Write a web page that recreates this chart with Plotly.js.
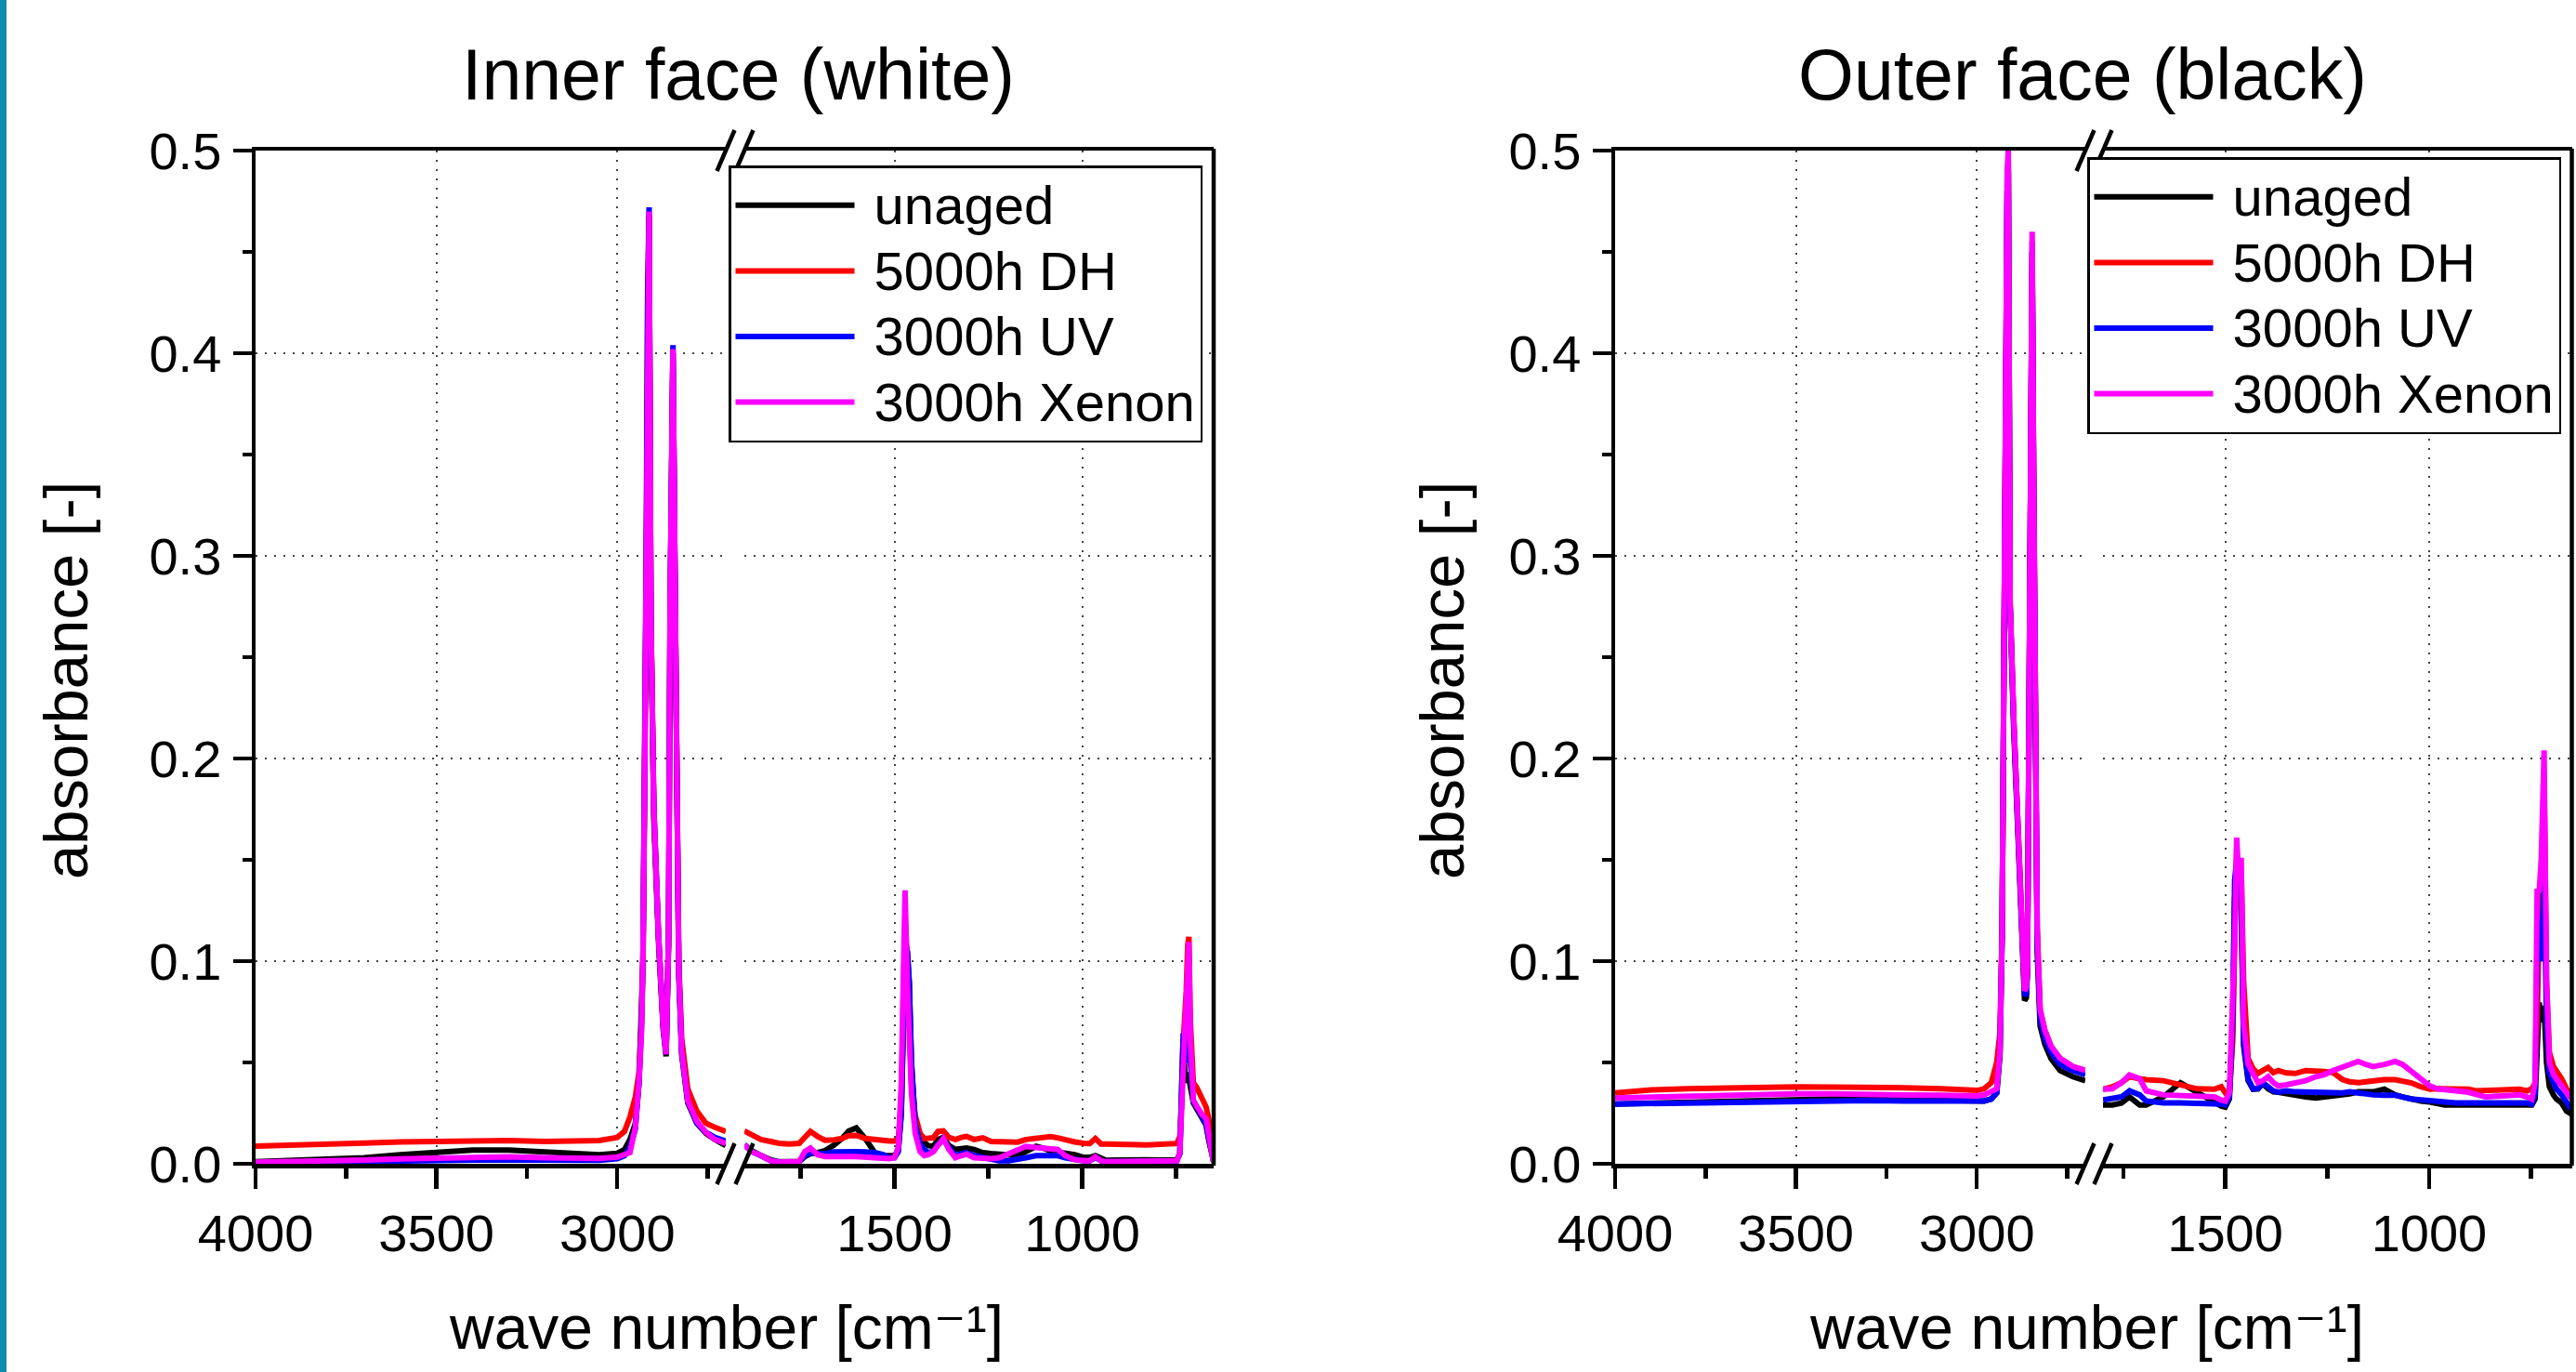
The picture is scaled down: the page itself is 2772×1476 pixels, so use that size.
<!DOCTYPE html>
<html><head><meta charset="utf-8">
<script src="https://cdn.plot.ly/plotly-3.0.1.min.js"></script>
<style>html,body{margin:0;padding:0;background:#fff;}#chart{width:2772px;height:1476px;}</style>
</head><body><div id="chart"></div>
<script>
// ---------------- DATA ----------------
const seriesNames = ['unaged', '5000h DH', '3000h UV', '3000h Xenon'];
const panelTitles = ['Inner face (white)', 'Outer face (black)'];
const xTitle = 'wave number [cm\u207B\u00B9]';
const yTitle = 'absorbance [-]';

// Inner face, high wavenumber segment (4000 -> 2700 cm-1)
const innerWnHigh = [4000, 3900, 3800, 3700, 3600, 3500, 3400, 3300, 3200, 3100, 3050, 3000, 2980, 2965, 2950, 2940, 2933, 2929, 2925, 2920, 2916, 2912, 2907, 2899, 2886, 2873, 2865, 2858, 2854, 2849, 2846, 2841, 2836, 2830, 2822, 2805, 2780, 2755, 2730, 2700];
const innerUnagedHigh = [0.001, 0.0015, 0.002, 0.003, 0.0045, 0.0055, 0.0068, 0.0068, 0.006, 0.0048, 0.0045, 0.0052, 0.007, 0.012, 0.02, 0.04, 0.07, 0.1, 0.17, 0.29, 0.42, 0.468, 0.27, 0.17, 0.11, 0.066, 0.053, 0.11, 0.27, 0.36, 0.4, 0.3, 0.17, 0.093, 0.054, 0.03, 0.02, 0.015, 0.012, 0.009];
const innerDhHigh = [0.0087, 0.009, 0.0095, 0.0102, 0.0108, 0.011, 0.0117, 0.0115, 0.011, 0.0113, 0.0115, 0.013, 0.016, 0.023, 0.033, 0.045, 0.07, 0.1, 0.17, 0.29, 0.42, 0.468, 0.27, 0.176, 0.113, 0.068, 0.055, 0.113, 0.27, 0.36, 0.4, 0.3, 0.176, 0.1, 0.062, 0.037, 0.026, 0.02, 0.018, 0.016];
const innerUvHigh = [0.0005, 0.0008, 0.001, 0.0013, 0.0015, 0.0018, 0.002, 0.002, 0.0018, 0.0016, 0.0017, 0.0025, 0.004, 0.008, 0.017, 0.04, 0.068, 0.1, 0.176, 0.3, 0.43, 0.472, 0.27, 0.176, 0.113, 0.068, 0.054, 0.113, 0.27, 0.365, 0.404, 0.302, 0.176, 0.097, 0.056, 0.031, 0.02, 0.0155, 0.013, 0.0112];
const innerXenonHigh = [0.0008, 0.001, 0.0013, 0.0018, 0.0024, 0.0029, 0.0035, 0.0034, 0.003, 0.0025, 0.0026, 0.0033, 0.0045, 0.0055, 0.018, 0.04, 0.065, 0.1, 0.176, 0.302, 0.429, 0.47, 0.27, 0.176, 0.113, 0.068, 0.054, 0.113, 0.27, 0.365, 0.402, 0.302, 0.176, 0.097, 0.056, 0.031, 0.021, 0.0155, 0.012, 0.01];

// Inner face, low wavenumber segment (1900 -> 650 cm-1)
const innerWnLow = [1900, 1880, 1856, 1830, 1808, 1780, 1754, 1739, 1724, 1705, 1685, 1661, 1640, 1622, 1602, 1578, 1553, 1530, 1514, 1500, 1490, 1482, 1476, 1472, 1466, 1461, 1455, 1445, 1432, 1421, 1410, 1397, 1384, 1370, 1355, 1338, 1322, 1308, 1288, 1265, 1243, 1221, 1196, 1172, 1150, 1123, 1100, 1084, 1065, 1045, 1020, 996, 980, 965, 950, 937, 910, 878, 850, 829, 800, 780, 760, 748, 740, 735, 731, 727, 723, 719, 716, 712, 708, 704, 695, 688, 680, 670, 663, 657, 652, 650];
const innerUnagedLow = [0.0093, 0.0065, 0.0041, 0.002, 0.001, 0.001, 0.0012, 0.0035, 0.005, 0.0055, 0.0065, 0.0093, 0.0125, 0.0162, 0.0177, 0.0125, 0.0055, 0.004, 0.004, 0.004, 0.007, 0.025, 0.07, 0.1, 0.105, 0.09, 0.05, 0.02, 0.012, 0.0101, 0.009, 0.0086, 0.012, 0.0131, 0.009, 0.0071, 0.0075, 0.0078, 0.007, 0.0055, 0.005, 0.0048, 0.0044, 0.004, 0.006, 0.0086, 0.0075, 0.0063, 0.0058, 0.0055, 0.0045, 0.0032, 0.0032, 0.004, 0.0025, 0.0017, 0.0018, 0.002, 0.002, 0.002, 0.0018, 0.0017, 0.0017, 0.002, 0.005, 0.03, 0.062, 0.045, 0.04, 0.045, 0.042, 0.035, 0.032, 0.03, 0.027, 0.025, 0.022, 0.019, 0.0116, 0.006, 0.002, 0.001];
const innerDhLow = [0.0162, 0.014, 0.012, 0.011, 0.0101, 0.0098, 0.0101, 0.013, 0.016, 0.0135, 0.0116, 0.0118, 0.0125, 0.0139, 0.014, 0.0125, 0.0118, 0.0112, 0.0112, 0.0112, 0.012, 0.03, 0.08, 0.12, 0.1, 0.07, 0.04, 0.024, 0.015, 0.0124, 0.0125, 0.0128, 0.016, 0.0162, 0.013, 0.012, 0.013, 0.0135, 0.012, 0.0128, 0.011, 0.0107, 0.0105, 0.0107, 0.012, 0.0128, 0.0132, 0.0134, 0.0128, 0.0116, 0.0108, 0.0101, 0.01, 0.0125, 0.0098, 0.0098, 0.0095, 0.0097, 0.0094, 0.0093, 0.0095, 0.0093, 0.0093, 0.01, 0.0135, 0.03, 0.06, 0.07, 0.085, 0.108, 0.112, 0.07, 0.044, 0.04, 0.0376, 0.0345, 0.032, 0.028, 0.022, 0.013, 0.0055, 0.003];
const innerUvLow = [0.0093, 0.006, 0.004, 0.0015, 0.0008, 0.0008, 0.001, 0.004, 0.0055, 0.005, 0.005, 0.0058, 0.006, 0.006, 0.006, 0.0058, 0.0055, 0.0045, 0.003, 0.003, 0.006, 0.025, 0.075, 0.11, 0.105, 0.09, 0.05, 0.02, 0.01, 0.007, 0.0055, 0.006, 0.0095, 0.012, 0.008, 0.004, 0.005, 0.0055, 0.004, 0.003, 0.002, 0.0015, 0.0015, 0.002, 0.003, 0.004, 0.004, 0.0045, 0.004, 0.003, 0.002, 0.0015, 0.0015, 0.003, 0.0015, 0.001, 0.001, 0.0012, 0.0012, 0.0012, 0.0012, 0.001, 0.001, 0.0015, 0.005, 0.035, 0.0644, 0.05, 0.06, 0.09, 0.095, 0.05, 0.038, 0.031, 0.028, 0.026, 0.023, 0.019, 0.012, 0.006, 0.002, 0.001];
const innerXenonLow = [0.0093, 0.006, 0.0041, 0.0015, 0.0008, 0.0008, 0.0012, 0.006, 0.0078, 0.0045, 0.0035, 0.0035, 0.0032, 0.0035, 0.0035, 0.0032, 0.003, 0.0025, 0.0025, 0.003, 0.008, 0.04, 0.11, 0.135, 0.09, 0.06, 0.035, 0.015, 0.006, 0.004, 0.0045, 0.006, 0.0095, 0.0125, 0.007, 0.003, 0.004, 0.0048, 0.003, 0.0025, 0.0025, 0.003, 0.005, 0.0075, 0.0086, 0.008, 0.0076, 0.0075, 0.007, 0.004, 0.002, 0.0015, 0.0015, 0.0035, 0.0015, 0.001, 0.001, 0.001, 0.001, 0.0012, 0.0012, 0.001, 0.001, 0.0015, 0.0055, 0.035, 0.063, 0.065, 0.08, 0.103, 0.1095, 0.06, 0.042, 0.0315, 0.0284, 0.026, 0.024, 0.0223, 0.013, 0.007, 0.0024, 0.001];

// Outer face, high wavenumber segment (4000 -> 2700 cm-1)
const outerWnHigh = [4000, 3900, 3800, 3700, 3600, 3500, 3400, 3300, 3200, 3100, 3050, 3000, 2980, 2960, 2945, 2936, 2930, 2924, 2920, 2916, 2913, 2908, 2898, 2890, 2877, 2868, 2863, 2860, 2856, 2851, 2847, 2843, 2838, 2833, 2825, 2812, 2795, 2770, 2735, 2700];
const outerUnagedHigh = [0.0295, 0.03, 0.0305, 0.031, 0.0315, 0.032, 0.032, 0.032, 0.0315, 0.031, 0.0308, 0.0305, 0.031, 0.032, 0.035, 0.054, 0.113, 0.275, 0.405, 0.48, 0.49, 0.275, 0.215, 0.175, 0.11, 0.0806, 0.082, 0.095, 0.21, 0.37, 0.45, 0.335, 0.17, 0.105, 0.068, 0.059, 0.052, 0.046, 0.043, 0.041];
const outerDhHigh = [0.035, 0.0365, 0.037, 0.0375, 0.0375, 0.038, 0.0378, 0.0378, 0.0375, 0.037, 0.0365, 0.0362, 0.037, 0.04, 0.05, 0.065, 0.115, 0.277, 0.407, 0.48, 0.49, 0.277, 0.22, 0.18, 0.115, 0.085, 0.085, 0.098, 0.212, 0.374, 0.45, 0.342, 0.18, 0.115, 0.076, 0.066, 0.058, 0.052, 0.048, 0.046];
const outerUvHigh = [0.0295, 0.0298, 0.03, 0.0303, 0.0306, 0.031, 0.031, 0.0312, 0.031, 0.0308, 0.0306, 0.0305, 0.031, 0.032, 0.035, 0.055, 0.114, 0.276, 0.406, 0.485, 0.495, 0.276, 0.218, 0.178, 0.113, 0.083, 0.084, 0.097, 0.21, 0.372, 0.455, 0.34, 0.176, 0.11, 0.072, 0.062, 0.055, 0.049, 0.046, 0.044];
const outerXenonHigh = [0.0325, 0.033, 0.0335, 0.034, 0.034, 0.0345, 0.0345, 0.0345, 0.034, 0.0338, 0.0335, 0.0335, 0.034, 0.036, 0.037, 0.056, 0.115, 0.277, 0.407, 0.49, 0.5, 0.277, 0.22, 0.18, 0.115, 0.0854, 0.087, 0.098, 0.212, 0.374, 0.46, 0.342, 0.18, 0.115, 0.076, 0.066, 0.058, 0.052, 0.048, 0.046];

// Outer face, low wavenumber segment (1800 -> 650 cm-1)
const outerWnLow = [1800, 1777, 1755, 1735, 1710, 1694, 1652, 1610, 1569, 1527, 1510, 1500, 1490, 1482, 1477, 1472, 1467, 1461, 1455, 1444, 1432, 1420, 1408, 1395, 1382, 1370, 1350, 1328, 1303, 1278, 1257, 1236, 1212, 1195, 1174, 1155, 1137, 1110, 1083, 1065, 1045, 1020, 998, 980, 962, 935, 904, 885, 862, 820, 779, 760, 748, 740, 735, 730, 725, 718, 712, 705, 695, 688, 675, 663, 655, 650];
const outerUnagedLow = [0.029, 0.029, 0.03, 0.033, 0.029, 0.029, 0.033, 0.04, 0.0353, 0.03, 0.0285, 0.028, 0.032, 0.065, 0.13, 0.145, 0.14, 0.125, 0.058, 0.041, 0.0368, 0.037, 0.0395, 0.037, 0.0355, 0.0353, 0.0345, 0.0338, 0.033, 0.0325, 0.033, 0.033, 0.0335, 0.0345, 0.0355, 0.0355, 0.0355, 0.0368, 0.034, 0.033, 0.032, 0.031, 0.0305, 0.0295, 0.029, 0.029, 0.029, 0.029, 0.029, 0.0292, 0.029, 0.029, 0.029, 0.032, 0.06, 0.0796, 0.07, 0.078, 0.05, 0.038, 0.034, 0.032, 0.03, 0.026, 0.025, 0.027];
const outerDhLow = [0.0368, 0.038, 0.04, 0.043, 0.042, 0.0415, 0.041, 0.039, 0.037, 0.0368, 0.038, 0.035, 0.036, 0.06, 0.12, 0.155, 0.14, 0.145, 0.09, 0.052, 0.047, 0.0446, 0.046, 0.0475, 0.045, 0.046, 0.0448, 0.0446, 0.046, 0.046, 0.0455, 0.045, 0.0415, 0.0405, 0.04, 0.0405, 0.041, 0.0415, 0.0415, 0.041, 0.04, 0.038, 0.0368, 0.037, 0.037, 0.0365, 0.0368, 0.036, 0.036, 0.0365, 0.0368, 0.036, 0.037, 0.04, 0.07, 0.12, 0.13, 0.19, 0.09, 0.055, 0.048, 0.046, 0.042, 0.037, 0.034, 0.033];
const outerUvLow = [0.0315, 0.032, 0.033, 0.036, 0.034, 0.031, 0.03, 0.03, 0.03, 0.03, 0.0295, 0.029, 0.033, 0.07, 0.14, 0.15, 0.145, 0.13, 0.06, 0.042, 0.037, 0.037, 0.04, 0.038, 0.036, 0.0353, 0.036, 0.0355, 0.0353, 0.035, 0.0355, 0.0353, 0.035, 0.0355, 0.035, 0.034, 0.034, 0.0338, 0.0338, 0.033, 0.032, 0.0315, 0.031, 0.031, 0.0305, 0.03, 0.03, 0.03, 0.03, 0.03, 0.0305, 0.03, 0.0295, 0.035, 0.11, 0.12, 0.1, 0.14, 0.07, 0.045, 0.04, 0.037, 0.034, 0.03, 0.028, 0.028];
const outerXenonLow = [0.0368, 0.037, 0.04, 0.0438, 0.042, 0.036, 0.034, 0.0338, 0.0335, 0.033, 0.0315, 0.031, 0.035, 0.08, 0.11, 0.161, 0.14, 0.151, 0.069, 0.0492, 0.0446, 0.04, 0.041, 0.043, 0.04, 0.0384, 0.039, 0.04, 0.041, 0.043, 0.044, 0.046, 0.0476, 0.049, 0.0505, 0.049, 0.048, 0.049, 0.0505, 0.049, 0.046, 0.042, 0.0384, 0.037, 0.0368, 0.036, 0.0353, 0.034, 0.033, 0.0335, 0.034, 0.033, 0.032, 0.04, 0.1356, 0.134, 0.15, 0.204, 0.09, 0.05, 0.044, 0.042, 0.038, 0.035, 0.033, 0.032];

// ---------------- STYLE / LAYOUT ----------------
const W = 2772, H = 1476;
const fx = v => v / W;
const fy = v => 1 - v / H;
const seriesColors = ['#000000', '#ff0000', '#0000ff', '#ff00ff'];
const FONT = '"Liberation Sans", Arial, sans-serif';
const FONT_SUP = '"Liberation Sans", "DejaVu Sans", Arial, sans-serif';
const LW = 6;

const panels = [
  { hi: innerWnHigh, lo: innerWnLow,
    ys: [[innerUnagedHigh, innerUnagedLow], [innerDhHigh, innerDhLow], [innerUvHigh, innerUvLow], [innerXenonHigh, innerXenonLow]],
    xa: ['x', 'x2'], ya: 'y', legend: 'legend' },
  { hi: outerWnHigh, lo: outerWnLow,
    ys: [[outerUnagedHigh, outerUnagedLow], [outerDhHigh, outerDhLow], [outerUvHigh, outerUvLow], [outerXenonHigh, outerXenonLow]],
    xa: ['x3', 'x4'], ya: 'y2', legend: 'legend2' }
];

const traces = [];
panels.forEach(p => {
  for (let i = 0; i < 4; i++) {
    traces.push({ type: 'scatter', mode: 'lines', x: p.hi, y: p.ys[i][0], xaxis: p.xa[0], yaxis: p.ya,
      name: '<span style="font-size:58px">\u00a0' + seriesNames[i] + '</span>',
      legend: p.legend, legendgroup: p.legend + i, showlegend: true,
      line: { color: seriesColors[i], width: LW }, hoverinfo: 'skip' });
  }
  for (let i = 0; i < 4; i++) {
    traces.push({ type: 'scatter', mode: 'lines', x: p.lo, y: p.ys[i][1], xaxis: p.xa[1], yaxis: p.ya,
      name: seriesNames[i], legend: p.legend, legendgroup: p.legend + i, showlegend: false,
      line: { color: seriesColors[i], width: LW }, hoverinfo: 'skip' });
  }
});

const yTop = 162, yBot = 1252;
const geom = [
  { seg1: [275, 781], seg2: [801, 1306], r1: [4000, 2700], r2: [1900, 650] },
  { seg1: [1738, 2244], seg2: [2263, 2767.5], r1: [4000, 2700], r2: [1800, 650] }
];

function xAxis(seg, range, anchor) {
  return {
    domain: [fx(seg[0]), fx(seg[1])], range: range, anchor: anchor,
    showline: true, mirror: true, linecolor: '#000', linewidth: 4.5,
    ticks: 'outside', ticklen: 22, tickwidth: 4.5, tickcolor: '#000',
    tickmode: 'linear', tick0: 0, dtick: 500, ticklabelstandoff: 0,
    tickfont: { family: FONT, size: 56, color: '#000' },
    showgrid: true, gridcolor: '#444', gridwidth: 2, griddash: '2px,8px',
    minor: { tickmode: 'linear', tick0: 0, dtick: 250, ticks: 'outside', ticklen: 11, tickwidth: 4.5, tickcolor: '#000', showgrid: false },
    zeroline: false, fixedrange: true
  };
}
function yAxis(anchor) {
  return {
    domain: [fy(yBot), fy(yTop)], range: [0, 0.5], anchor: anchor,
    showline: true, linecolor: '#000', linewidth: 4.5,
    ticks: 'outside', ticklen: 20, tickwidth: 4.5, tickcolor: '#000',
    tickmode: 'linear', tick0: 0, dtick: 0.1, tickformat: '.1f', ticklabelstandoff: 1,
    tickfont: { family: FONT, size: 56, color: '#000' },
    showgrid: true, gridcolor: '#444', gridwidth: 2, griddash: '2px,8px',
    minor: { tickmode: 'linear', tick0: 0, dtick: 0.05, ticks: 'outside', ticklen: 10, tickwidth: 4.5, tickcolor: '#000', showgrid: false },
    zeroline: false, fixedrange: true
  };
}

const shapes = [
  { type: 'rect', xref: 'paper', yref: 'paper', x0: 0, x1: fx(7), y0: 0, y1: 1, fillcolor: '#0b8cad', line: { width: 0 } }
];
geom.forEach(g => {
  shapes.push({ type: 'line', xref: 'paper', yref: 'paper', x0: fx(g.seg2[1]), x1: fx(g.seg2[1]), y0: fy(yBot + 2), y1: fy(yTop - 2), line: { color: '#000', width: 4.5 } });
  [yBot, yTop].forEach(ay => {
    [g.seg1[1], g.seg2[0]].forEach(cx => {
      shapes.push({ type: 'line', xref: 'paper', yref: 'paper', layer: 'above',
        x0: fx(cx - 9.5), y0: fy(ay + 22), x1: fx(cx + 9.5), y1: fy(ay - 22), line: { color: '#000', width: 4.5 } });
    });
  });
});

const annotations = [];
const titleX = [794, 2241];
const xTitleX = [782, 2245];
const yTitleX = [71, 1552];
const X_TITLE_BOTTOM = 1466; // target bottom edge (px) of the drawn x-axis title text
[0, 1].forEach(k => {
  annotations.push({ xref: 'paper', yref: 'paper', x: fx(titleX[k]), y: fy(80), xanchor: 'center', yanchor: 'middle',
    text: panelTitles[k], showarrow: false, font: { family: FONT, size: 77, color: '#000' } });
  annotations.push({ xref: 'paper', yref: 'paper', x: fx(xTitleX[k]), y: fy(1428), xanchor: 'center', yanchor: 'middle',
    text: xTitle, showarrow: false, font: { family: FONT_SUP, size: 66, color: '#000' } });
  annotations.push({ xref: 'paper', yref: 'paper', x: fx(yTitleX[k]), y: fy(732), xanchor: 'center', yanchor: 'middle',
    text: yTitle, textangle: -90, showarrow: false, font: { family: FONT, size: 67, color: '#000' } });
});

const legendStyle = {
  xanchor: 'left', yanchor: 'top', bgcolor: '#fff', bordercolor: '#000', borderwidth: 2.5,
  font: { family: FONT, size: 52, color: '#000' }, itemwidth: 128, tracegroupgap: 0, traceorder: 'normal'
};

const layout = {
  width: W, height: H, margin: { l: 0, r: 0, t: 0, b: 0, pad: 0 },
  paper_bgcolor: '#fff', plot_bgcolor: 'rgba(0,0,0,0)',
  font: { family: FONT, color: '#000' },
  showlegend: true,
  xaxis: xAxis(geom[0].seg1, geom[0].r1, 'y'),
  xaxis2: xAxis(geom[0].seg2, geom[0].r2, 'y'),
  xaxis3: xAxis(geom[1].seg1, geom[1].r1, 'y2'),
  xaxis4: xAxis(geom[1].seg2, geom[1].r2, 'y2'),
  yaxis: yAxis('x'),
  yaxis2: yAxis('x3'),
  legend: Object.assign({ x: fx(784), y: fy(178) }, legendStyle),
  legend2: Object.assign({ x: fx(2246), y: fy(169) }, legendStyle),
  shapes: shapes,
  annotations: annotations
};

const gd = document.getElementById('chart');
Plotly.newPlot(gd, traces, layout, { displayModeBar: false, staticPlot: true }).then(() => {
  // align the drawn x-axis title text to its intended vertical place
  const top = gd.getBoundingClientRect().top;
  gd.querySelectorAll('g.annotation text.annotation-text').forEach(t => {
    if ((t.textContent || '').indexOf('wave number') !== 0) return;
    const r = t.getBoundingClientRect();
    const dy = X_TITLE_BOTTOM - (r.bottom - top);
    if (Math.abs(dy) > 2 && Math.abs(dy) < 120) t.setAttribute('transform', 'translate(0,' + dy.toFixed(1) + ')');
  });
});
</script></body></html>
